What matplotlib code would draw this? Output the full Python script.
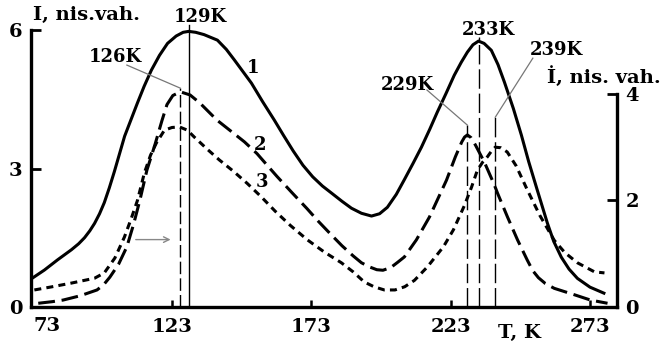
import matplotlib
matplotlib.use("Agg")
import matplotlib.pyplot as plt

# Temperature (K) and intensity readings
# curve 1: left axis (I, nis. vah.)
t1 = [73.0, 77.2, 81.9, 86.9, 89.5, 91.6, 93.5, 95.2, 97.0, 98.7,
      100.5, 102.3, 106.0, 110.6, 113.0, 115.6, 118.5, 121.4, 124.5, 127.0,
      129.0, 131.5, 134.5, 139.3, 142.5, 145.4, 151.5, 155.5, 159.7, 163.0,
      166.5, 170.0, 173.5, 177.0, 180.2, 184.0, 187.4, 191.0, 194.6, 197.5,
      200.3, 203.5, 206.4, 209.5, 212.5, 215.5, 218.2, 221.3, 224.3, 226.8,
      229.0, 231.0, 233.0, 235.0, 237.6, 240.0, 242.3, 245.5, 248.4, 251.0,
      254.0, 257.7, 260.0, 262.7, 265.5, 268.5, 273.0, 278.0]
i1 = [0.63, 0.80, 1.02, 1.24, 1.37, 1.50, 1.65, 1.81, 2.02, 2.26,
      2.58, 2.93, 3.70, 4.42, 4.78, 5.13, 5.45, 5.71, 5.87, 5.95,
      5.97, 5.95, 5.90, 5.78, 5.58, 5.35, 4.85, 4.45, 4.05, 3.72,
      3.38, 3.07, 2.82, 2.62, 2.47, 2.29, 2.14, 2.03, 1.97, 2.02,
      2.16, 2.44, 2.76, 3.11, 3.46, 3.85, 4.22, 4.62, 5.02, 5.30,
      5.52, 5.68, 5.76, 5.71, 5.56, 5.25, 4.87, 4.30, 3.72, 3.15,
      2.55, 1.82, 1.42, 1.08, 0.82, 0.62, 0.43, 0.30]

# curve 2: right axis (İ, nis. vah.)
t2 = [75.0, 80.0, 83.9, 90.0, 96.1, 98.5, 100.7, 103.8, 106.8, 109.2,
      111.5, 114.0, 116.9, 119.4, 121.2, 123.3, 126.0, 129.5, 133.0, 139.1,
      144.9, 149.0, 153.5, 157.0, 160.7, 166.0, 171.4, 175.5, 179.7, 184.0,
      188.0, 191.0, 194.0, 196.5, 198.7, 201.5, 204.0, 206.4, 210.7, 215.4,
      221.5, 224.7, 227.0, 228.0, 229.0, 230.3, 231.9, 235.1, 238.7, 239.8,
      243.4, 247.0, 250.5, 252.5, 254.5, 257.0, 260.2, 267.4, 273.2, 279.3]
i2 = [0.07, 0.10, 0.13, 0.21, 0.32, 0.42, 0.56, 0.80, 1.13, 1.55,
      2.01, 2.57, 3.05, 3.50, 3.80, 3.97, 4.04, 3.98, 3.83, 3.51,
      3.27, 3.10, 2.88, 2.67, 2.45, 2.15, 1.85, 1.61, 1.38, 1.15,
      0.96, 0.83, 0.75, 0.70, 0.69, 0.74, 0.84, 0.94, 1.26, 1.69,
      2.38, 2.82, 3.10, 3.19, 3.23, 3.18, 3.04, 2.72, 2.29, 2.14,
      1.69, 1.26, 0.88, 0.68, 0.55, 0.44, 0.35, 0.23, 0.13, 0.07]

# curve 3: right axis
t3 = [73.6, 80.0, 87.0, 95.2, 98.7, 102.5, 105.9, 108.3, 110.6, 113.1,
      115.3, 117.4, 120.3, 123.0, 125.7, 128.5, 131.0, 135.7, 140.0, 145.0,
      150.0, 155.0, 160.0, 165.5, 171.6, 177.7, 183.8, 188.0, 192.0, 195.5,
      199.2, 203.0, 206.5, 210.0, 214.6, 220.4, 224.0, 227.9, 230.5, 232.6,
      234.5, 236.2, 237.7, 239.0, 241.0, 243.3, 246.5, 250.5, 255.0, 260.2,
      264.0, 268.5, 274.6, 278.2]
i3 = [0.32, 0.38, 0.45, 0.54, 0.64, 0.92, 1.31, 1.65, 2.00, 2.52,
      2.85, 3.08, 3.32, 3.37, 3.38, 3.32, 3.19, 2.96, 2.76, 2.55,
      2.32, 2.07, 1.80, 1.53, 1.26, 1.03, 0.83, 0.66, 0.47, 0.38,
      0.32, 0.32, 0.38, 0.50, 0.75, 1.13, 1.45, 1.90, 2.25, 2.57,
      2.72, 2.82, 2.93, 3.00, 2.99, 2.91, 2.65, 2.20, 1.72, 1.25,
      1.02, 0.83, 0.66, 0.64]

# peak markers: temperature and top of the line in left-axis units
peak_t = [126, 129, 229, 233, 239]
peak_top = [4.74, 6.10, 3.94, 5.84, 4.11]

left_ticks = [0, 3, 6]
right_ticks = [0, 2, 4]
x_ticks = [123, 173, 223, 273]

FONT = "DejaVu Serif"
W, H = 663, 348

fig = plt.figure(figsize=(W / 100, H / 100), dpi=100)
ax = fig.add_axes([31 / W, 41 / H, 586 / W, 277 / H])
ax2 = ax.twinx()

ax.set_xlim(72.4, 282.7)
ax.set_ylim(0, 6)
ax2.set_ylim(0, 5.2)

ax.plot(t1, i1, color="black", lw=2.2, clip_on=False, solid_joinstyle="round")
ax2.plot(t2, i2, color="black", lw=2.2, linestyle=(0, (5.5, 2.2)), clip_on=False)
ax2.plot(t3, i3, color="black", lw=2.2, linestyle=(0, (2.3, 1.7)), clip_on=False)

# vertical peak lines
styles = [(0, (9, 3)), "-", (0, (14, 3.5)), (0, (14, 3.5)), (0, (14, 3.5))]
for t, top, ls in zip(peak_t, peak_top, styles):
    ax.plot([t, t], [0, top], color="black", lw=1.0, linestyle=ls, clip_on=False)

# leader lines to the peak labels
ax.plot([106.8, 126], [5.24, 4.74], color="#777777", lw=0.9, clip_on=False)
ax.plot([214.5, 229], [4.70, 3.94], color="#777777", lw=0.9, clip_on=False)
ax.plot([252.5, 239], [5.39, 4.11], color="#777777", lw=0.9, clip_on=False)

# arrow pointing curves 2 and 3 to the right axis
ax.annotate("", xy=(123.5, 1.46), xytext=(109, 1.46),
            arrowprops=dict(arrowstyle="->", color="#888888", lw=1.0))

lab = dict(fontfamily=FONT, fontweight="bold", color="black", clip_on=False)
ax.text(133, 6.28, "129K", ha="center", va="center", fontsize=13, **lab)
ax.text(102.5, 5.41, "126K", ha="center", va="center", fontsize=13, **lab)
ax.text(236.4, 6.0, "233K", ha="center", va="center", fontsize=13, **lab)
ax.text(261.1, 5.56, "239K", ha="center", va="center", fontsize=13, **lab)
ax.text(207.3, 4.80, "229K", ha="center", va="center", fontsize=13, **lab)
ax.text(152.1, 5.17, "1", ha="center", va="center", fontsize=13, **lab)
ax.text(154.6, 3.51, "2", ha="center", va="center", fontsize=13, **lab)
ax.text(155.3, 2.71, "3", ha="center", va="center", fontsize=13, **lab)

fig.text(33 / W, 1 - 15 / H, "I, nis.vah.", ha="left", va="center",
         fontsize=14, family=FONT, fontweight="bold")
fig.text(547 / W, 1 - 77 / H, "İ, nis. vah.", ha="left", va="center",
         fontsize=14, family=FONT, fontweight="bold")
fig.text(519 / W, 1 - 333 / H, "T, K", ha="center", va="center",
         fontsize=14, family=FONT, fontweight="bold")

# axes frame
for a in (ax, ax2):
    a.spines["top"].set_visible(False)
    a.patch.set_visible(False)
ax.spines["right"].set_visible(False)
ax2.spines["left"].set_visible(False)
ax2.spines["bottom"].set_visible(False)
for s in (ax.spines["left"], ax.spines["bottom"], ax2.spines["right"]):
    s.set_linewidth(2.4)
ax.spines["left"].set_bounds(0, 6)
ax2.spines["right"].set_bounds(0, 4)

ax.set_xticks(x_ticks)
ax.set_xticklabels([str(v) for v in x_ticks])
ax.set_yticks(left_ticks)
ax.set_yticklabels([str(v) for v in left_ticks])
ax2.set_yticks(right_ticks)
ax2.set_yticklabels([str(v) for v in right_ticks])

ax.tick_params(axis="x", direction="in", length=5, width=1.8, pad=8)
ax.tick_params(axis="y", direction="in", length=7, width=2.0, pad=6)
ax2.tick_params(axis="y", direction="in", length=7, width=2.0, pad=6)
for lbl in ax.get_xticklabels() + ax.get_yticklabels() + ax2.get_yticklabels():
    lbl.set_fontfamily(FONT)
    lbl.set_fontweight("bold")
    lbl.set_fontsize(14)

# first temperature label sits just right of the frame corner
ax.text(78.1, -0.21, "73", transform=ax.transData, ha="center", va="top",
        fontsize=14, **lab)

fig.savefig("out.png", dpi=100, facecolor="white")
